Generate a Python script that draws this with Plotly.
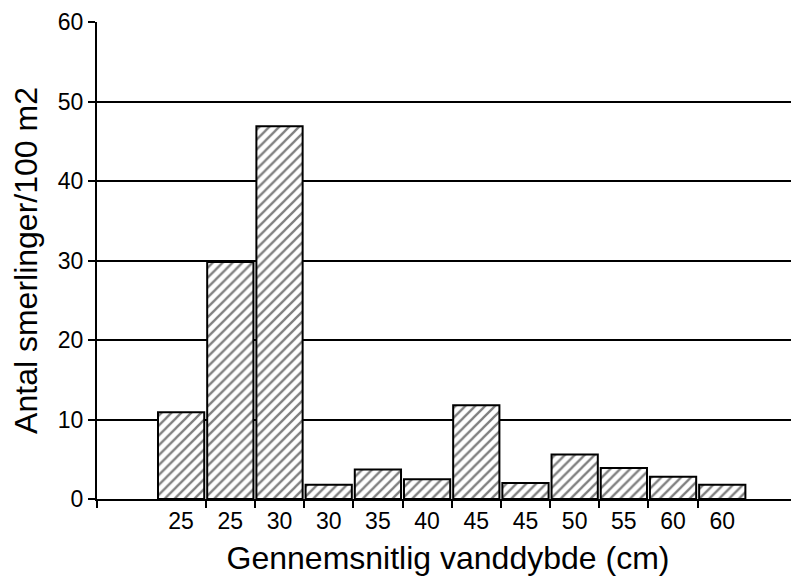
import plotly.graph_objects as go

# Bars in order, one per station; label = average water depth (cm)
depth_labels = ["25", "25", "30", "30", "35", "40", "45", "45", "50", "55", "60", "60"]
counts = [10.9, 29.8, 46.9, 1.8, 3.7, 2.5, 11.8, 2.0, 5.6, 3.9, 2.8, 1.8]
y_ticks = [0, 10, 20, 30, 40, 50, 60]

positions = list(range(len(counts)))

fig = go.Figure(go.Bar(
    x=positions, y=counts,
    marker=dict(
        color="white",
        line=dict(color="black", width=2),
        pattern=dict(shape="/", fgcolor="black", bgcolor="white", size=7, solidity=0.33),
    ),
))

# page body has an 8px margin, so the figure is sized/offset to compensate
fig.update_layout(
    width=791, height=568,
    margin=dict(l=89, r=0, t=14, b=77),
    paper_bgcolor="white", plot_bgcolor="white",
    font=dict(family="Arial", size=20, color="black"),
    bargap=0.06,
    showlegend=False,
)

fig.update_xaxes(
    range=[-1.71, 12.56], automargin=False,
    tickmode="array", tickvals=positions, ticktext=depth_labels,
    ticks="", showgrid=False, zeroline=False,
    showline=True, linecolor="black", linewidth=2,
    tickfont=dict(size=23),
    minor=dict(tickmode="array", tickvals=[-1.71] + [p + 0.5 for p in positions[:-1]],
               ticks="outside", ticklen=7, tickwidth=1.5, tickcolor="black"),
    title=dict(text="Gennemsnitlig vanddybde (cm)", font=dict(size=32)),
)
fig.update_yaxes(
    range=[0, 60], automargin=False,
    tickmode="array", tickvals=y_ticks,
    ticks="outside", ticklen=7, tickwidth=1.5, tickcolor="black",
    showgrid=True, gridcolor="black", gridwidth=2,
    zeroline=False,
    showline=True, linecolor="black", linewidth=2,
    tickfont=dict(size=23),
    title=dict(text="Antal smerlinger/100 m2", font=dict(size=32)),
)

fig.write_html("out.html")
